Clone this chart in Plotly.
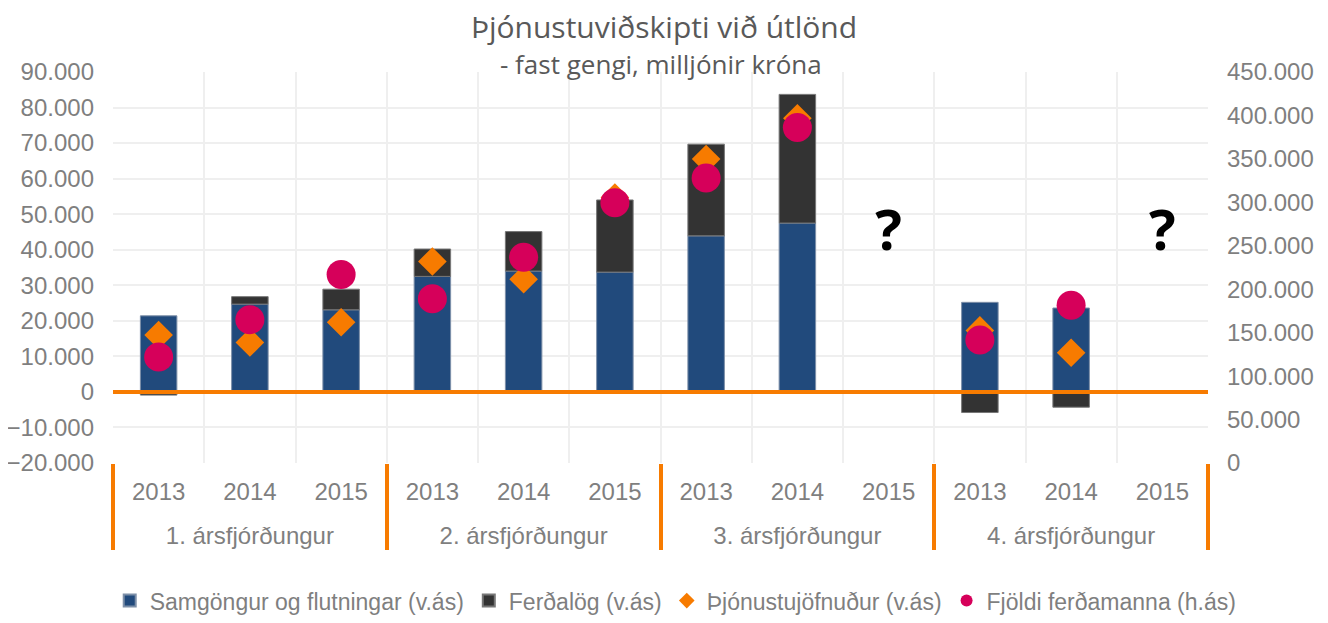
import plotly.graph_objects as go

quarters = ["1. ársfjórðungur"] * 3 + ["2. ársfjórðungur"] * 3 + ["3. ársfjórðungur"] * 3 + ["4. ársfjórðungur"] * 3
years = ["2013", "2014", "2015"] * 4

samgongur = [21400, 24700, 23100, 32500, 34000, 33700, 43900, 47500, None, 25200, 23600, None]
ferdalog = [-900, 2100, 5800, 7700, 11100, 20300, 25800, 36200, None, -5800, -4300, None]
jofnudur = [16000, 13900, 19600, 36700, 31700, 54700, 65500, 77000, None, 17300, 11000, None]
fjoldi = [122000, 165000, 217000, 189000, 236700, 299500, 328000, 386000, None, 141500, 181500, None]

# óþekkt gildi
q_quarters = ["3. ársfjórðungur", "4. ársfjórðungur"]
q_years = ["2015", "2015"]
q_y = [44000, 44000]

# auka (ósýnileg) lína undir ártölum svo ársfjórðungar lendi neðar
spacer = "<br><span style='font-size:4px'>\u00a0</span>"
year_lbl = [y + spacer for y in years]

x = [quarters, year_lbl]
gray = "#595959"
tick_gray = "#7f7f7f"

fig = go.Figure()
fig.add_trace(go.Bar(x=x, y=samgongur, name="Samgöngur og flutningar (v.ás)",
                     marker=dict(color="#214A7C", line=dict(color="#7d8fa8", width=1))))
fig.add_trace(go.Bar(x=x, y=ferdalog, name="Ferðalög (v.ás)",
                     marker=dict(color="#333333", line=dict(color="#777777", width=1))))
fig.add_trace(go.Scatter(x=x, y=jofnudur, name="Þjónustujöfnuður (v.ás)", mode="markers",
                         marker=dict(symbol="diamond", size=22, color="#F77B00")))
fig.add_trace(go.Scatter(x=x, y=fjoldi, name="Fjöldi ferðamanna (h.ás)", mode="markers",
                         marker=dict(symbol="circle", size=29, color="#D6005A"), yaxis="y2"))
fig.add_trace(go.Scatter(x=[q_quarters, [y + spacer for y in q_years]], y=q_y, mode="text",
                         text=["?", "?"], showlegend=False,
                         textfont=dict(family="Open Sans", size=56, color="black", weight="bold")))

fig.add_hline(y=0, line_color="#F77B00", line_width=4)

# síðan hefur 8px spássíu í body, því er myndin 1312x607
fig.update_layout(
    width=1312, height=607,
    barmode="relative",
    bargap=0.6,
    separators=",.",
    plot_bgcolor="white",
    paper_bgcolor="white",
    margin=dict(l=105, r=112, t=64, b=152, autoexpand=False),
    font=dict(family="Liberation Sans, Arial", size=24, color=tick_gray),
    title=dict(text="Þjónustuviðskipti við útlönd", x=0.5, xanchor="center", y=0.968, yanchor="middle",
               font=dict(family="Open Sans", size=30, color=gray)),
    annotations=[dict(text="- fast gengi, milljónir króna", x=0.5, xref="paper", y=1.02, yref="paper",
                      yanchor="middle", showarrow=False, font=dict(family="Open Sans", size=26, color=gray))],
    # x<0 og xanchor left svo skýringin fái meiri breidd
    legend=dict(orientation="h", x=-0.003, xanchor="left", y=-0.352, yanchor="middle",
                itemsizing="constant", font=dict(size=23, color=tick_gray)),
    xaxis=dict(type="multicategory", range=[-0.5, 11.5], showgrid=True, gridcolor="#EFEFEF", gridwidth=1.5,
               tickson="boundaries", ticks="", showdividers=True, dividercolor="#F77B00",
               dividerwidth=4, ticklabelstandoff=12, tickfont=dict(size=24, color=tick_gray)),
    yaxis=dict(range=[-20000, 90000], dtick=10000, tickformat=",d", showgrid=True,
               gridcolor="#EFEFEF", gridwidth=1.5, zeroline=False, ticklabelstandoff=18,
               tickfont=dict(size=24, color=tick_gray)),
    yaxis2=dict(range=[0, 450000], dtick=50000, tickformat=",d", overlaying="y", side="right",
                showgrid=False, zeroline=False, ticklabelstandoff=18,
                tickfont=dict(size=24, color=tick_gray)),
)

fig.write_html("out.html")
